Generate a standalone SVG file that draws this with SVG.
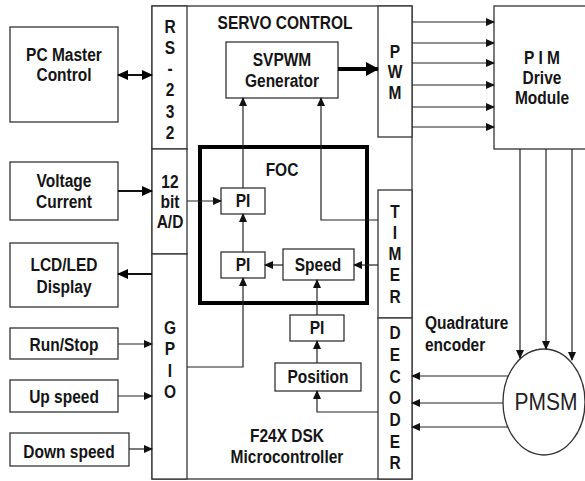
<svg xmlns="http://www.w3.org/2000/svg" width="585" height="481" viewBox="0 0 585 481">
<style>
.b{fill:#fff;stroke:#333;stroke-width:1.3}
.t{font-family:"Liberation Sans",Arial,sans-serif;font-weight:bold;font-size:15.5px;text-anchor:middle;fill:#151515;transform-box:fill-box;transform-origin:center;transform:scaleY(1.14)}
.s{text-anchor:start}
.c{fill:none;stroke:#222;stroke-width:1.2}
.c2{fill:none;stroke:#111;stroke-width:2}
</style>
<defs>
<marker id="a" markerUnits="userSpaceOnUse" markerWidth="9" markerHeight="8" refX="8" refY="4" orient="auto-start-reverse" viewBox="0 0 9 8"><path d="M0,0 L9,4 L0,8 z" fill="#111"/></marker>
<marker id="am" markerUnits="userSpaceOnUse" markerWidth="11" markerHeight="10" refX="10" refY="5" orient="auto-start-reverse" viewBox="0 0 11 10"><path d="M0,0 L11,5 L0,10 z" fill="#000"/></marker>
<marker id="ab" markerUnits="userSpaceOnUse" markerWidth="13" markerHeight="14" refX="12" refY="7" orient="auto" viewBox="0 0 13 14"><path d="M0,0 L13,7 L0,14 z" fill="#000"/></marker>
</defs>
<rect x="0" y="0" width="585" height="481" fill="#fff"/>
<g id="mcu"><rect class="b" x="152" y="6" width="260" height="473"/>
<text class="t" x="285" y="28">SERVO CONTROL</text>
<text class="t" x="287" y="441">F24X DSK</text>
<text class="t" x="287" y="462">Microcontroller</text></g>
<g id="rs232"><rect class="b" x="152" y="6" width="35" height="143"/>
<text class="t" x="170" y="32">R</text><text class="t" x="170" y="53">S</text><text class="t" x="170" y="74">-</text><text class="t" x="170" y="95">2</text><text class="t" x="170" y="117">3</text><text class="t" x="170" y="138">2</text></g>
<g id="ad"><rect class="b" x="152" y="149" width="35" height="105"/>
<text class="t" x="170" y="187">12</text><text class="t" x="170" y="207">bit</text><text class="t" x="170" y="227">A/D</text></g>
<g id="gpio"><rect class="b" x="152" y="254" width="35" height="225"/>
<text class="t" x="170" y="333">G</text><text class="t" x="170" y="354">P</text><text class="t" x="170" y="376">I</text><text class="t" x="170" y="397">O</text></g>
<g id="pwm"><rect class="b" x="378" y="6" width="34" height="131"/>
<text class="t" x="395" y="57">P</text><text class="t" x="395" y="77">W</text><text class="t" x="395" y="98">M</text></g>
<g id="timer"><rect class="b" x="378" y="190" width="34" height="128"/>
<text class="t" x="395" y="217">T</text><text class="t" x="395" y="238">I</text><text class="t" x="395" y="259">M</text><text class="t" x="395" y="280">E</text><text class="t" x="395" y="302">R</text></g>
<g id="decoder"><rect class="b" x="378" y="318" width="34" height="161"/>
<text class="t" x="395" y="338">D</text><text class="t" x="395" y="360">E</text><text class="t" x="395" y="382">C</text><text class="t" x="395" y="403">O</text><text class="t" x="395" y="425">D</text><text class="t" x="395" y="447">E</text><text class="t" x="395" y="468">R</text></g>
<g id="svpwm"><rect class="b" x="226" y="42" width="112" height="56"/>
<text class="t" x="282" y="65">SVPWM</text><text class="t" x="282" y="86">Generator</text></g>
<g id="foc"><rect x="200" y="147" width="167" height="156" fill="none" stroke="#000" stroke-width="4"/>
<text class="t" x="282" y="175">FOC</text></g>
<g id="pi1"><rect class="b" x="221" y="188" width="44" height="26"/><text class="t" x="243" y="206">PI</text></g>
<g id="pi2"><rect class="b" x="221" y="252" width="44" height="26"/><text class="t" x="243" y="270">PI</text></g>
<g id="speed"><rect class="b" x="283" y="249" width="71" height="31"/><text class="t" x="318" y="270">Speed</text></g>
<g id="pi3"><rect class="b" x="290" y="315" width="54" height="26"/><text class="t" x="317" y="333">PI</text></g>
<g id="position"><rect class="b" x="275" y="363" width="86" height="28"/><text class="t" x="318" y="382">Position</text></g>
<g id="pc"><rect class="b" x="10" y="27" width="108" height="95"/><text class="t" x="64" y="60">PC Master</text><text class="t" x="64" y="80">Control</text></g>
<g id="volt"><rect class="b" x="10" y="162" width="108" height="58"/><text class="t" x="64" y="186">Voltage</text><text class="t" x="64" y="207">Current</text></g>
<g id="lcd"><rect class="b" x="10" y="243" width="108" height="64"/><text class="t" x="64" y="270">LCD/LED</text><text class="t" x="64" y="292">Display</text></g>
<g id="run"><rect class="b" x="10" y="328" width="108" height="31"/><text class="t" x="64" y="350">Run/Stop</text></g>
<g id="up"><rect class="b" x="10" y="380" width="108" height="32"/><text class="t" x="64" y="402">Up speed</text></g>
<g id="down"><rect class="b" x="10" y="433" width="119" height="33"/><text class="t" x="69" y="457">Down speed</text></g>
<g id="pim"><rect class="b" x="494" y="6" width="96" height="143"/><text class="t" x="542" y="63">P I M</text><text class="t" x="542" y="83">Drive</text><text class="t" x="542" y="103">Module</text></g>
<g id="pmsm"><ellipse cx="544" cy="402" rx="41" ry="53" fill="#fff" stroke="#333" stroke-width="1.3"/>
<text x="546" y="409" font-family="Liberation Sans,Arial,sans-serif" font-size="21" text-anchor="middle" fill="#222" style="transform-box:fill-box;transform-origin:center;transform:scaleY(1.14)">PMSM</text></g>
<g id="qe"><text class="t s" x="425" y="328">Quadrature</text><text class="t s" x="425" y="350">encoder</text></g>
<g id="connectors">
<line class="c2" x1="118" y1="75" x2="152" y2="75" marker-start="url(#am)" marker-end="url(#am)"/>
<line class="c2" x1="118" y1="191" x2="152" y2="191" marker-end="url(#am)"/>
<line class="c2" x1="152" y1="274" x2="118" y2="274" marker-end="url(#am)"/>
<line class="c" x1="118" y1="344" x2="152" y2="344" marker-end="url(#a)"/>
<line class="c" x1="118" y1="396" x2="152" y2="396" marker-end="url(#a)"/>
<line class="c" x1="129" y1="449" x2="152" y2="449" marker-end="url(#a)"/>
<line class="c" x1="187" y1="201" x2="221" y2="201" marker-end="url(#a)"/>
<line class="c" x1="243" y1="188" x2="243" y2="98" marker-end="url(#a)"/>
<line class="c" x1="243" y1="252" x2="243" y2="214" marker-end="url(#a)"/>
<polyline class="c" points="187,367 243,367 243,278" marker-end="url(#a)"/>
<line class="c" x1="283" y1="265" x2="265" y2="265" marker-end="url(#a)"/>
<line class="c" x1="378" y1="265" x2="354" y2="265" marker-end="url(#a)"/>
<polyline class="c" points="378,220 321,220 321,98" marker-end="url(#a)"/>
<line class="c" x1="317" y1="315" x2="317" y2="280" marker-end="url(#a)"/>
<line class="c" x1="317" y1="363" x2="317" y2="341" marker-end="url(#a)"/>
<polyline class="c" points="378,412 317,412 317,391" marker-end="url(#a)"/>
<line x1="338" y1="69" x2="378" y2="69" stroke="#000" stroke-width="4" marker-end="url(#ab)"/>
<line class="c" x1="412" y1="22" x2="494" y2="22" marker-end="url(#a)"/>
<line class="c" x1="412" y1="43" x2="494" y2="43" marker-end="url(#a)"/>
<line class="c" x1="412" y1="63" x2="494" y2="63" marker-end="url(#a)"/>
<line class="c" x1="412" y1="85" x2="494" y2="85" marker-end="url(#a)"/>
<line class="c" x1="412" y1="107" x2="494" y2="107" marker-end="url(#a)"/>
<line class="c" x1="412" y1="127" x2="494" y2="127" marker-end="url(#a)"/>
<line class="c" x1="520" y1="149" x2="520" y2="358" marker-end="url(#a)"/>
<line class="c" x1="546" y1="149" x2="546" y2="349" marker-end="url(#a)"/>
<line class="c" x1="572" y1="149" x2="572" y2="360" marker-end="url(#a)"/>
<line class="c" x1="508" y1="376" x2="412" y2="376" marker-end="url(#a)"/>
<line class="c" x1="503" y1="403" x2="412" y2="403" marker-end="url(#a)"/>
<line class="c" x1="508" y1="427" x2="412" y2="427" marker-end="url(#a)"/>
</g>
</svg>
